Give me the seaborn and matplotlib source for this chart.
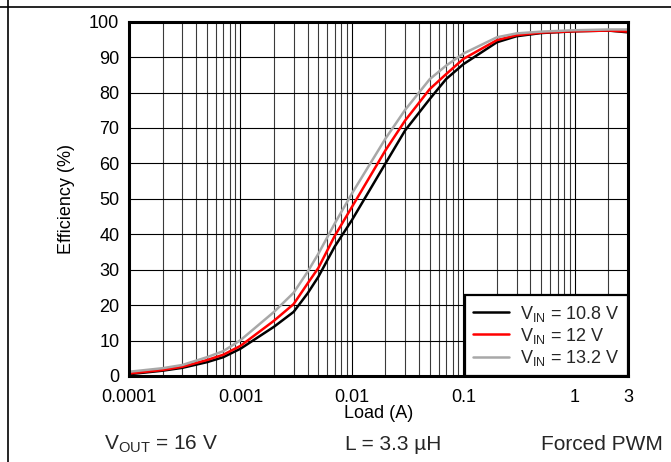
import numpy as np
import pandas as pd
import matplotlib
matplotlib.use("Agg")
import matplotlib.pyplot as plt
from matplotlib.lines import Line2D
from matplotlib.ticker import LogLocator, FixedLocator, FixedFormatter, NullFormatter
import seaborn as sns

# ---- data ----
load = [0.0001, 0.0002, 0.0003, 0.0005, 0.0007, 0.001, 0.002, 0.003, 0.004, 0.005,
        0.007, 0.01, 0.02, 0.03, 0.05, 0.07, 0.1, 0.2, 0.3, 0.5, 1, 2, 3]
eff_10v8 = [0.5, 1.5, 2.3, 3.9, 5.3, 7.7, 13.9, 18.1, 23.3, 28.0,
            36.5, 44.0, 60.0, 69.3, 78.2, 83.8, 88.0, 94.2, 95.9, 96.8, 97.3, 97.5, 97.0]
eff_12v = [0.7, 1.7, 2.6, 4.5, 6.0, 8.5, 15.6, 20.3, 26.1, 30.5,
           39.5, 47.7, 63.7, 72.1, 81.0, 85.2, 89.5, 94.8, 96.2, 96.9, 97.3, 97.5, 97.2]
eff_13v2 = [1.2, 2.2, 3.1, 5.3, 7.0, 10.1, 18.1, 23.5, 29.4, 34.5,
            43.0, 51.5, 67.0, 75.1, 83.8, 87.6, 91.0, 95.6, 96.7, 97.2, 97.6, 97.8, 97.8]
series_labels = [r"V$_{\mathrm{IN}}$ = 10.8 V", r"V$_{\mathrm{IN}}$ = 12 V", r"V$_{\mathrm{IN}}$ = 13.2 V"]
series_colors = ["#000000", "#ff0000", "#a8a8a8"]
x_ticks = [0.0001, 0.001, 0.01, 0.1, 1, 3]
x_tick_labels = ["0.0001", "0.001", "0.01", "0.1", "1", "3"]
y_ticks = list(range(0, 101, 10))

frames = []
for lab, vals in zip(series_labels, [eff_10v8, eff_12v, eff_13v2]):
    frames.append(pd.DataFrame({"Load": load, "Eff": vals, "Series": lab}))
df = pd.concat(frames, ignore_index=True)

sns.set_theme(style="white")
plt.rcParams["font.family"] = ["Liberation Sans", "DejaVu Sans"]
plt.rcParams["mathtext.fontset"] = "custom"
plt.rcParams["mathtext.rm"] = "Liberation Sans"
plt.rcParams["mathtext.it"] = "Liberation Sans:italic"
plt.rcParams["mathtext.bf"] = "Liberation Sans:bold"
plt.rcParams["mathtext.default"] = "regular"

fig = plt.figure(figsize=(6.71, 4.62), dpi=100)
ax = fig.add_axes([129 / 671, 1 - 376 / 462, (628 - 129) / 671, (376 - 21.7) / 462])

sns.lineplot(data=df, x="Load", y="Eff", hue="Series", palette=series_colors,
             hue_order=series_labels, linewidth=1.8, ax=ax, legend=True, sort=False)

ax.set_xscale("log")
ax.set_xlim(1e-4, 3)
ax.set_ylim(0, 100)

ax.xaxis.set_major_locator(FixedLocator(x_ticks))
ax.xaxis.set_major_formatter(FixedFormatter(x_tick_labels))
ax.xaxis.set_minor_locator(LogLocator(base=10, subs=np.arange(2, 10)))
ax.xaxis.set_minor_formatter(NullFormatter())
ax.set_yticks(y_ticks)

ax.grid(True, which="major", axis="both", color="#000000", linewidth=0.8)
ax.grid(True, which="minor", axis="x", color="#3a3a3a", linewidth=0.8)
ax.set_axisbelow(True)
ax.tick_params(axis="both", which="both", length=0, labelsize=13, colors="black")
ax.tick_params(axis="x", pad=9)
ax.tick_params(axis="y", pad=7)

for sp in ax.spines.values():
    sp.set_visible(True)
    sp.set_color("black")
    sp.set_linewidth(2.2)

ax.set_xlabel("Load (A)", fontsize=13, labelpad=0, color="black")
ax.set_ylabel("Efficiency (%)", fontsize=13, labelpad=10, color="black")

leg = ax.legend(loc="lower right", borderaxespad=0, fontsize=13, frameon=True,
                fancybox=False, handlelength=2.0, handletextpad=0.6,
                labelspacing=0.12, borderpad=0.45)
leg.get_frame().set_edgecolor("black")
leg.get_frame().set_linewidth(1.6)
leg.get_frame().set_facecolor("white")
leg.get_frame().set_alpha(1)
for h in leg.get_lines():
    h.set_linewidth(1.8)

# figure-level decorations
fig.add_artist(Line2D([0, 1], [1 - 6.7 / 462, 1 - 6.7 / 462], transform=fig.transFigure,
                      color="black", linewidth=1.2))
fig.add_artist(Line2D([7.5 / 671, 7.5 / 671], [0, 1], transform=fig.transFigure,
                      color="black", linewidth=1.2))

ybot = 1 - 444 / 462
fig.text(104 / 671, ybot, r"V$_{\mathrm{OUT}}$ = 16 V", fontsize=15, ha="left", va="center")
fig.text(345 / 671, ybot, "L = 3.3 µH", fontsize=15, ha="left", va="center")
fig.text(541 / 671, ybot, "Forced PWM", fontsize=15, ha="left", va="center")

fig.savefig("out.png", dpi=100)
